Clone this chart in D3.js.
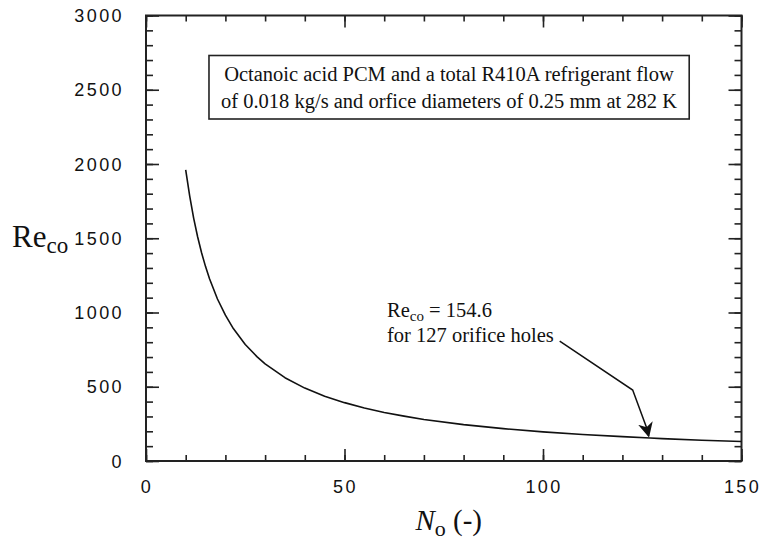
<!DOCTYPE html>
<html>
<head>
<meta charset="utf-8">
<script src="https://cdnjs.cloudflare.com/ajax/libs/d3/7.8.5/d3.min.js"></script>
<style>
  body { margin: 0; background: #fff; }
  svg { display: block; }
</style>
</head>
<body>
<svg id="svg" width="762" height="542"></svg>
<script>
// ------ data ------
const holes = [10, 11, 12, 13, 14, 15, 16, 18, 20, 22, 25, 28, 30, 35, 40, 45, 50, 55, 60, 65, 70, 80, 90, 100, 110, 120, 127, 130, 140, 150];
const reynolds = [1960, 1785, 1636, 1510, 1402, 1309, 1227, 1091, 982, 892, 785, 701, 654, 561, 491, 436, 393, 357, 327, 302, 280, 245, 218, 196, 178, 164, 155, 151, 140, 131];
const xTicks = [0, 50, 100, 150];
const yTicks = [0, 500, 1000, 1500, 2000, 2500, 3000];
const boxLines = [
  'Octanoic acid PCM and a total R410A refrigerant flow',
  'of 0.018 kg/s and orfice diameters of 0.25 mm at 282 K'
];
const marked = { n: 127, re: 154.6 };

const svg = d3.select('#svg');
const W = 762, H = 542;
const margin = { left: 146, top: 15.5, right: 20.5, bottom: 81 };

const x = d3.scaleLinear().domain([0, 150]).range([margin.left, W - margin.right]);
const y = d3.scaleLinear().domain([0, 3000]).range([H - margin.bottom, margin.top]);

const tickFont = '"Liberation Sans", Arial, sans-serif';
const serif = '"Liberation Serif", "Times New Roman", serif';

//------ frame + ticks (ticks on all four sides) ------
const drawAxis = (axis, tx, ty) => {
  const g = svg.append('g').attr('transform', `translate(${tx},${ty})`).call(axis);
  g.select('.domain').remove();
  g.selectAll('line').attr('stroke', '#222').attr('stroke-width', 1.6);
  return g;
};

const x0 = margin.left, x1 = W - margin.right, y0 = H - margin.bottom, y1 = margin.top;

// minor ticks
drawAxis(d3.axisTop(x).tickValues(d3.range(0, 151, 10)).tickSize(6).tickFormat(''), 0, y0);
drawAxis(d3.axisBottom(x).tickValues(d3.range(0, 151, 10)).tickSize(6).tickFormat(''), 0, y1);
drawAxis(d3.axisRight(y).tickValues(d3.range(0, 3001, 100)).tickSize(7).tickFormat(''), x0, 0);
drawAxis(d3.axisLeft(y).tickValues(d3.range(0, 3001, 100)).tickSize(7).tickFormat(''), x1, 0);
// major ticks
drawAxis(d3.axisTop(x).tickValues(xTicks).tickSize(12).tickFormat(''), 0, y0);
drawAxis(d3.axisBottom(x).tickValues(xTicks).tickSize(12).tickFormat(''), 0, y1);
drawAxis(d3.axisRight(y).tickValues(yTicks).tickSize(13).tickFormat(''), x0, 0);
drawAxis(d3.axisLeft(y).tickValues(yTicks).tickSize(13).tickFormat(''), x1, 0);

svg.append('rect')
  .attr('x', x0).attr('y', y1)
  .attr('width', x1 - x0).attr('height', y0 - y1)
  .attr('fill', 'none')
  .attr('stroke', '#222')
  .attr('stroke-width', 2);

//------ tick labels ------
svg.append('g').selectAll('text')
  .data(xTicks)
  .join('text')
  .attr('x', d => x(d) + 1)
  .attr('y', 493)
  .attr('text-anchor', 'middle')
  .attr('font-family', tickFont)
  .attr('font-size', 18)
  .attr('letter-spacing', 2.4)
  .attr('fill', '#111')
  .text(d => d);

svg.append('g').selectAll('text')
  .data(yTicks)
  .join('text')
  .attr('x', 124)
  .attr('y', d => y(d) + 6.5)
  .attr('text-anchor', 'end')
  .attr('font-family', tickFont)
  .attr('font-size', 18)
  .attr('letter-spacing', 2.4)
  .attr('fill', '#111')
  .text(d => d);

//------ axis titles ------
const yTitle = svg.append('text')
  .attr('x', 12)
  .attr('y', 247)
  .attr('font-family', serif)
  .attr('font-size', 31)
  .attr('fill', '#111');
yTitle.append('tspan').text('Re');
yTitle.append('tspan').attr('font-size', 23).attr('dy', 6).text('co');

const xTitle = svg.append('text')
  .attr('x', (x0 + x1) / 2 + 5)
  .attr('y', 530)
  .attr('text-anchor', 'middle')
  .attr('font-family', serif)
  .attr('font-size', 29)
  .attr('fill', '#111');
xTitle.append('tspan').attr('font-style', 'italic').text('N');
xTitle.append('tspan').attr('font-size', 22).attr('dy', 6).text('o');
xTitle.append('tspan').attr('dy', -6).text(' (-)');

//------ the curve ------
const line = d3.line()
  .x((d, i) => x(holes[i]))
  .y(d => y(d));

svg.append('path')
  .datum(reynolds)
  .attr('fill', 'none')
  .attr('stroke', '#111')
  .attr('stroke-width', 1.6)
  .attr('stroke-linejoin', 'round')
  .attr('d', line);

//------ box with case description ------
const box = svg.append('g');
const boxText = box.append('text')
  .attr('font-family', serif)
  .attr('font-size', 20.5)
  .attr('fill', '#111')
  .attr('text-anchor', 'middle');
boxText.selectAll('tspan')
  .data(boxLines)
  .join('tspan')
  .attr('x', 449)
  .attr('y', (d, i) => 81 + i * 27)
  .text(d => d);

const bb = boxText.node().getBBox();
box.insert('rect', 'text')
  .attr('x', bb.x - 12)
  .attr('y', 55.5)
  .attr('width', bb.width + 24)
  .attr('height', 63.5)
  .attr('fill', '#fff')
  .attr('stroke', '#222')
  .attr('stroke-width', 1.6);

//------ callout for 127 holes ------
const note = svg.append('text')
  .attr('font-family', serif)
  .attr('font-size', 20.5)
  .attr('fill', '#111');
const l1 = note.append('tspan').attr('x', 387).attr('y', 317);
l1.append('tspan').text('Re');
l1.append('tspan').attr('font-size', 15).attr('dy', 4).text('co');
l1.append('tspan').attr('dy', -4).text(` = ${marked.re}`);
note.append('tspan').attr('x', 387).attr('y', 342).text(`for ${marked.n} orifice holes`);

const tipX = x(marked.n) - 1.5, tipY = y(marked.re) - 2;
const arrowPts = [[tipX - 89, tipY - 95], [tipX - 16, tipY - 46], [tipX - 2, tipY - 8]];

svg.append('defs').append('marker')
  .attr('id', 'head')
  .attr('viewBox', '0 0 10 10')
  .attr('refX', 9).attr('refY', 5)
  .attr('markerWidth', 15).attr('markerHeight', 15)
  .attr('markerUnits', 'userSpaceOnUse')
  .attr('orient', 'auto')
  .append('path')
  .attr('d', 'M0,0 L10,5 L0,10 L3,5 Z')
  .attr('fill', '#111');

svg.append('path')
  .attr('d', d3.line()([...arrowPts, [tipX, tipY]]))
  .attr('fill', 'none')
  .attr('stroke', '#111')
  .attr('stroke-width', 1.5)
  .attr('marker-end', 'url(#head)');
</script>
</body>
</html>
